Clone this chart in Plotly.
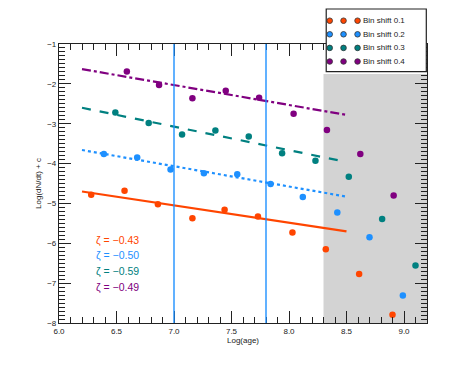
import plotly.graph_objects as go

# Log(age) bin centres and Log(dN/dt)+c for each bin shift
age_s1 = [6.28, 6.57, 6.86, 7.16, 7.44, 7.73, 8.03, 8.32, 8.61, 8.90]
rate_s1 = [-4.78, -4.68, -5.02, -5.37, -5.16, -5.33, -5.73, -6.15, -6.77, -7.79]

age_s2 = [6.39, 6.68, 6.97, 7.26, 7.55, 7.84, 8.12, 8.42, 8.70, 8.99]
rate_s2 = [-3.76, -3.85, -4.15, -4.24, -4.27, -4.51, -4.84, -5.23, -5.85, -7.31]

age_s3 = [6.49, 6.78, 7.07, 7.36, 7.65, 7.94, 8.23, 8.52, 8.81, 9.10]
rate_s3 = [-2.72, -2.98, -3.27, -3.17, -3.32, -3.74, -3.93, -4.33, -5.39, -6.56]

age_s4 = [6.59, 6.87, 7.16, 7.45, 7.74, 8.04, 8.33, 8.62, 8.91]
rate_s4 = [-1.69, -2.03, -2.36, -2.17, -2.35, -2.75, -3.16, -3.76, -4.80]

# fitted power laws, evaluated at the ends of the fit range
fit_age = [6.2, 8.5]
fit_s1 = [-4.70, -5.70]
fit_s2 = [-3.66, -4.83]
fit_s3 = [-2.60, -3.96]
fit_s4 = [-1.63, -2.78]

zetas = ["−0.43", "−0.50", "−0.59", "−0.49"]
labels = ["Bin shift 0.1", "Bin shift 0.2", "Bin shift 0.3", "Bin shift 0.4"]
colors = ["#FF4500", "#1E90FF", "#008080", "#800080"]
dashes = ["solid", "dot", "dash", "dashdot"]

age_marks = [7.0, 7.8]          # vertical reference lines
excluded = (8.3, 9.2)           # shaded range
x_range = [6.0, 9.2]
y_range = [-8, -1]

FONT = "Liberation Sans, Arial, sans-serif"

# the page puts the figure 8px in from the top-left corner
W, H = 455, 363
ML, MR, MT, MB = 51, 36.3, 36, 48

fig = go.Figure()

# shaded region (stops under the legend box)
fig.add_shape(type="rect", xref="x", yref="y",
              x0=excluded[0], x1=excluded[1], y0=y_range[0], y1=-1.75,
              fillcolor="#D3D3D3", line=dict(width=0), layer="below")

for xv in age_marks:
    fig.add_shape(type="line", xref="x", yref="paper", x0=xv, x1=xv, y0=0, y1=1,
                  line=dict(color="#1E90FF", width=1.4), layer="above")

series = [(age_s1, rate_s1, fit_s1), (age_s2, rate_s2, fit_s2),
          (age_s3, rate_s3, fit_s3), (age_s4, rate_s4, fit_s4)]

for (ax, ay, fy), col, dash, name in zip(series, colors, dashes, labels):
    fig.add_trace(go.Scatter(
        x=fit_age, y=fy, mode="lines",
        line=dict(color=col, width=2.2, dash=dash),
        showlegend=False, hoverinfo="skip"))
    fig.add_trace(go.Scatter(
        x=ax, y=ay, mode="markers", name=name,
        marker=dict(color=col, size=6.5, line=dict(width=0)),
        showlegend=False))

# slope annotations
for i, (z, col) in enumerate(zip(zetas, colors)):
    fig.add_annotation(x=6.3, y=-5.91 - 0.395 * i, xref="x", yref="y",
                       text=f"ζ = {z}", showarrow=False, xanchor="left",
                       font=dict(family=FONT, size=10.5, color=col))

# hand-made legend with three scatter points per entry (page pixel positions)
pw, ph = W - ML - MR, H - MT - MB
def px(xp):
    return (xp - 8 - ML) / pw
def py(yp):
    return (H - MB - (yp - 8)) / ph

fig.add_shape(type="rect", xref="paper", yref="paper",
              x0=px(326), x1=px(426), y0=py(71.7), y1=py(9),
              fillcolor="white", line=dict(color="#222", width=1.2), layer="above")
for i, (lab, col) in enumerate(zip(labels, colors)):
    yrow = 20.7 + 13.6 * i
    for xm in (329.5, 343.3, 357.3):
        fig.add_shape(type="circle", xref="paper", yref="paper",
                      xsizemode="pixel", ysizemode="pixel",
                      xanchor=px(xm), yanchor=py(yrow),
                      x0=-2.8, x1=2.8, y0=-2.8, y1=2.8,
                      fillcolor=col, line=dict(color="#333", width=0.8), layer="above")
    fig.add_annotation(x=px(360.5), y=py(yrow), xref="paper", yref="paper",
                       text=lab, showarrow=False, xanchor="left", yanchor="middle",
                       font=dict(family=FONT, size=8, color="#222"))

axis_common = dict(
    showgrid=False, zeroline=False, showline=True, linecolor="#222", linewidth=1.2,
    mirror="ticks", ticks="inside", ticklen=12, tickwidth=1, tickcolor="#222",
    tickfont=dict(family=FONT, size=8, color="#222"),
)

fig.update_xaxes(range=x_range, dtick=0.5, tick0=6.0, tickformat=".1f",
                 minor=dict(ticks="inside", ticklen=6, dtick=0.1, tickcolor="#222"),
                 title=dict(text="Log(age)", font=dict(family=FONT, size=8, color="#222"),
                            standoff=2),
                 **axis_common)
fig.update_yaxes(range=y_range, dtick=1, tick0=-8,
                 minor=dict(ticks="inside", ticklen=6, dtick=0.1, tickcolor="#222"),
                 title=dict(text="Log(dN/dt) + c", font=dict(family=FONT, size=8, color="#222"),
                            standoff=4),
                 **axis_common)

fig.update_layout(
    width=W, height=H,
    margin=dict(l=ML, r=MR, t=MT, b=MB),
    paper_bgcolor="white", plot_bgcolor="white",
    showlegend=False,
)

fig.write_html("out.html")
